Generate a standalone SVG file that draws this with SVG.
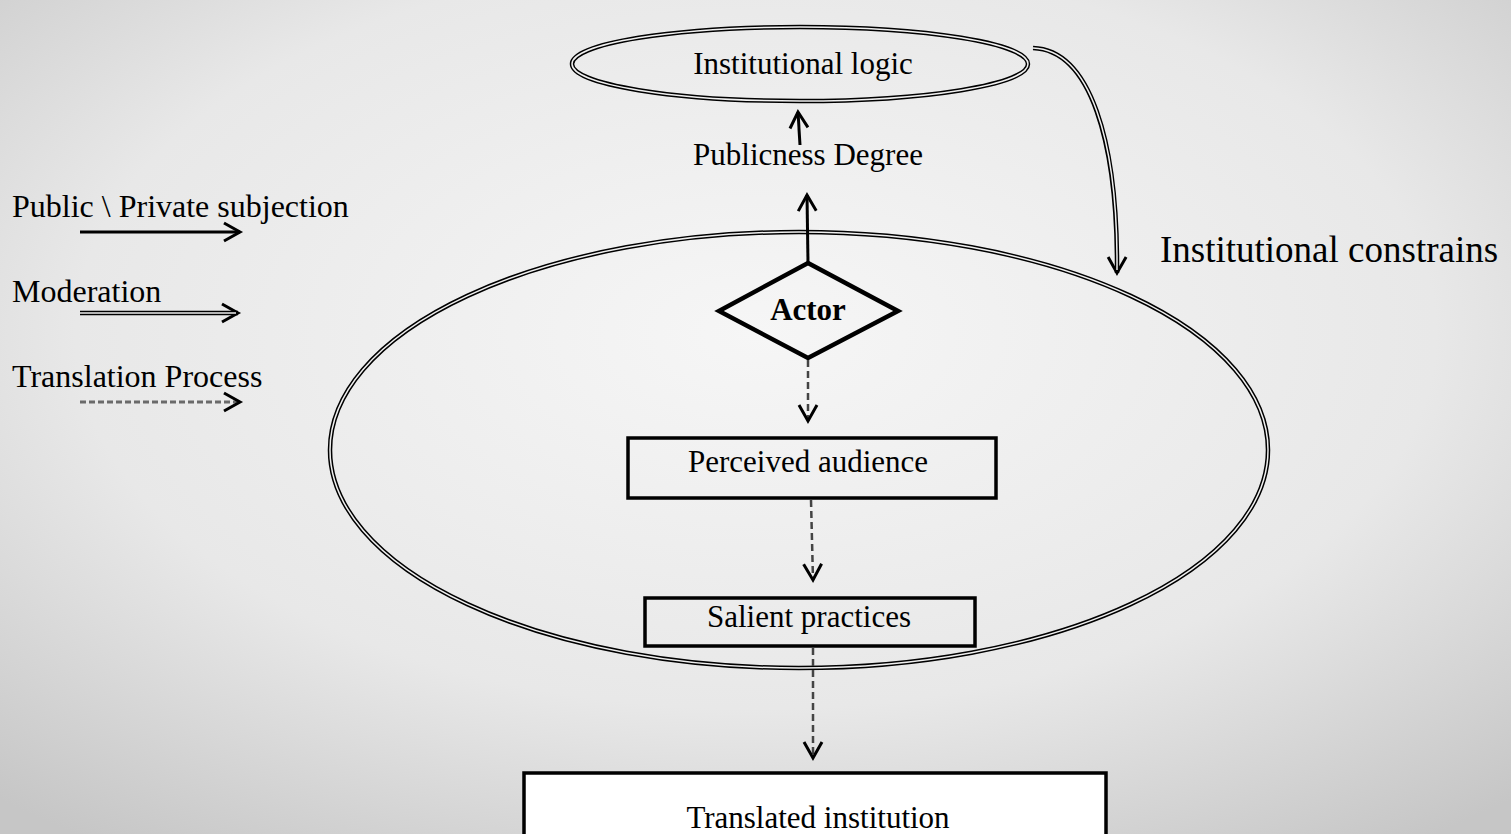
<svg xmlns="http://www.w3.org/2000/svg" width="1511" height="834" viewBox="0 0 1511 834">
<defs>
<radialGradient id="bg" cx="50%" cy="40%" r="75%">
<stop offset="0" stop-color="#f6f6f6"/>
<stop offset="0.6" stop-color="#e8e8e8"/>
<stop offset="1" stop-color="#c6c6c6"/>
</radialGradient>
<marker id="chev" markerUnits="userSpaceOnUse" viewBox="-20 -12 24 24" markerWidth="24" markerHeight="24" refX="0" refY="0" orient="auto" overflow="visible">
<path d="M-16,-9 L0,0 L-16,9" fill="none" stroke="#000" stroke-width="3"/>
</marker>
</defs>
<style>
text{font-family:"Liberation Serif","Times New Roman",serif;fill:#000}
.lbl{font-size:31px}
.leg{font-size:32px}
.dblo{fill:none;stroke:#000;stroke-width:4.5}
.dbli{fill:none;stroke:#f0f0f0;stroke-width:1.5}
.box{fill:none;stroke:#000;stroke-width:3.5}
.solid{fill:none;stroke:#000;stroke-width:3}
.dash{fill:none;stroke:#444;stroke-width:2.5;stroke-dasharray:7 4}
</style>
<rect width="1511" height="834" fill="url(#bg)"/>

<g id="legend">
<text class="leg" x="12" y="217">Public \ Private subjection</text>
<line class="solid" x1="80" y1="232" x2="240" y2="232" marker-end="url(#chev)"/>
<text class="leg" x="12" y="302">Moderation</text>
<line class="dblo" x1="80" y1="313" x2="238" y2="313" marker-end="url(#chev)"/>
<line class="dbli" x1="80" y1="313" x2="236" y2="313"/>
<text class="leg" x="12" y="387">Translation Process</text>
<line x1="80" y1="402" x2="240" y2="402" fill="none" stroke="#6a6a6a" stroke-width="3" stroke-dasharray="6 3" marker-end="url(#chev)"/>
</g>

<g id="context">
<ellipse class="dblo" cx="799" cy="450" rx="469" ry="218"/>
<ellipse class="dbli" cx="799" cy="450" rx="469" ry="218"/>
</g>

<g id="institutional-logic">
<ellipse class="dblo" cx="800" cy="64" rx="228" ry="37"/>
<ellipse class="dbli" cx="800" cy="64" rx="228" ry="37"/>
<text class="lbl" x="803" y="74" text-anchor="middle">Institutional logic</text>
</g>

<g id="publicness-degree">
<text class="lbl" x="808" y="165" text-anchor="middle">Publicness Degree</text>
</g>

<g id="actor">
<polygon points="808,263 898,311 808,358 719,311" fill="none" stroke="#000" stroke-width="4.5" stroke-linejoin="miter"/>
<text x="808" y="320" text-anchor="middle" font-size="31" font-weight="bold">Actor</text>
</g>

<g id="perceived-audience">
<rect class="box" x="628" y="438" width="368" height="60"/>
<text class="lbl" x="808" y="472" text-anchor="middle">Perceived audience</text>
</g>

<g id="salient-practices">
<rect class="box" x="645" y="598" width="330" height="48"/>
<text class="lbl" x="809" y="627" text-anchor="middle">Salient practices</text>
</g>

<g id="translated-institution">
<rect x="524" y="773" width="582" height="70" fill="#fff" stroke="#000" stroke-width="3.5"/>
<text class="lbl" x="818" y="828" text-anchor="middle">Translated institution</text>
</g>

<g id="constraints-label">
<text x="1160" y="262" font-size="37">Institutional constrains</text>
</g>

<g id="connectors">
<line class="solid" x1="808" y1="263" x2="807" y2="195" marker-end="url(#chev)"/>
<line class="solid" x1="800" y1="145" x2="798" y2="112" marker-end="url(#chev)"/>
<line class="dash" x1="808" y1="360" x2="808" y2="421" marker-end="url(#chev)"/>
<line class="dash" x1="811" y1="500" x2="813" y2="580" marker-end="url(#chev)"/>
<line class="dash" stroke="#111" x1="813" y1="648" x2="813" y2="758" marker-end="url(#chev)"/>
<path class="dblo" d="M1033,48 C1090,50 1118,140 1117,273" marker-end="url(#chev)"/>
<path class="dbli" d="M1033,48 C1090,50 1118,140 1117,270"/>
</g>
</svg>
